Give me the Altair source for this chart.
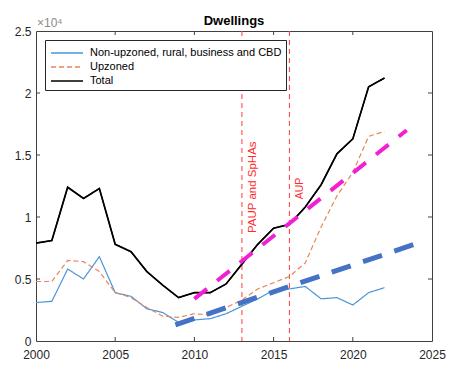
import altair as alt
import pandas as pd

years = list(range(2000, 2023))
non_upzoned = [0.31, 0.32, 0.58, 0.50, 0.68, 0.39, 0.36, 0.26, 0.23, 0.15, 0.17, 0.18,
               0.22, 0.28, 0.34, 0.41, 0.42, 0.44, 0.34, 0.35, 0.29, 0.39, 0.43]
upzoned = [0.48, 0.48, 0.65, 0.64, 0.56, 0.39, 0.35, 0.27, 0.20, 0.19, 0.22, 0.21,
           0.27, 0.33, 0.42, 0.47, 0.52, 0.63, 0.92, 1.17, 1.36, 1.65, 1.69]
total = [0.79, 0.81, 1.24, 1.15, 1.23, 0.78, 0.72, 0.56, 0.45, 0.35, 0.39, 0.39,
         0.46, 0.62, 0.78, 0.91, 0.94, 1.08, 1.26, 1.51, 1.63, 2.05, 2.12]
series_names = ["Non-upzoned, rural, business and CBD", "Upzoned", "Total"]

trend_up_x = [2010.0, 2023.4]
trend_up_y = [0.34, 1.70]
trend_non_x = [2008.8, 2023.9]
trend_non_y = [0.13, 0.78]

policy_years = [2013, 2016]
label_paup = ["PAUP and SpHAs"]
label_paup_x = [2013.67]
label_paup_y = [1.24]
label_aup = ["AUP"]
label_aup_x = [2016.68]
label_aup_y = [1.23]
exponent_label = ["×10⁴"]
title_text = ["Dwellings"]

x_ticks = [2000, 2005, 2010, 2015, 2020, 2025]
y_ticks = [0, 0.5, 1, 1.5, 2, 2.5]
x_inner_ticks = [2005, 2010, 2015, 2020]
y_inner_ticks = [0.5, 1, 1.5, 2]

W, H = 396, 310
FONT = "Liberation Sans"

rows = []
for name, vals in zip(series_names, [non_upzoned, upzoned, total]):
    for yr, v in zip(years, vals):
        rows.append({"year": yr, "value": v, "series": name})
df = pd.DataFrame(rows)
df_total = pd.DataFrame({"year": years, "value": total})

xs = alt.Scale(domain=[2000, 2025], nice=False, zero=False)
ys = alt.Scale(domain=[0, 2.5], nice=False, zero=False)

x_axis = alt.Axis(values=x_ticks, format="d", ticks=False, domain=False, grid=False,
                  labelFontSize=12, labelFont=FONT, labelColor="#262626", labelPadding=8,
                  title=None, labelFlush=False)
y_axis = alt.Axis(values=y_ticks, format="~g", ticks=False, domain=False, grid=False,
                  labelFontSize=12, labelFont=FONT, labelColor="#262626", labelPadding=5,
                  title=None)

legend = alt.Legend(
    orient="none", legendX=9, legendY=9,
    strokeColor="#262626", fillColor="#ffffff", padding=4, cornerRadius=0,
    labelFont=FONT, labelFontSize=11, labelColor="#000000", labelOffset=14,
    symbolType="M-2,0L2,0", symbolSize=256, symbolStrokeWidth=1.5, symbolOffset=9,
    rowPadding=0, labelLimit=400,
)

vlines = alt.Chart(pd.DataFrame({"year": policy_years})).mark_rule(
    color="#ff4d4d", strokeDash=[5, 4], strokeWidth=1.1
).encode(x=alt.X("year:Q", scale=xs, axis=x_axis))

lines = alt.Chart(df).mark_line(strokeWidth=1.2).encode(
    x=alt.X("year:Q", scale=xs, axis=x_axis),
    y=alt.Y("value:Q", scale=ys, axis=y_axis),
    color=alt.Color("series:N", title=None, legend=legend,
                    scale=alt.Scale(domain=series_names, range=["#4a95d8", "#e5875a", "#000000"])),
    strokeDash=alt.StrokeDash("series:N", title=None, legend=legend,
                              scale=alt.Scale(domain=series_names, range=[[1, 0], [5, 3], [1, 0]])),
    order=alt.Order("year:Q"),
)

total_line = alt.Chart(df_total).mark_line(color="#000000", strokeWidth=1.7).encode(
    x=alt.X("year:Q", scale=xs), y=alt.Y("value:Q", scale=ys))

trend_up = alt.Chart(pd.DataFrame({"year": trend_up_x, "value": trend_up_y})).mark_line(
    color="#f21fd3", strokeWidth=4, strokeDash=[16, 13]
).encode(x=alt.X("year:Q", scale=xs), y=alt.Y("value:Q", scale=ys))

trend_non = alt.Chart(pd.DataFrame({"year": trend_non_x, "value": trend_non_y})).mark_line(
    color="#4472c4", strokeWidth=5, strokeDash=[20, 13]
).encode(x=alt.X("year:Q", scale=xs), y=alt.Y("value:Q", scale=ys))

txt_paup = alt.Chart(pd.DataFrame({"year": label_paup_x, "value": label_paup_y, "t": label_paup})).mark_text(
    angle=270, color="#ff2a2a", fontSize=11.5, font=FONT, align="center", baseline="middle"
).encode(x=alt.X("year:Q", scale=xs), y=alt.Y("value:Q", scale=ys), text="t:N")

txt_aup = alt.Chart(pd.DataFrame({"year": label_aup_x, "value": label_aup_y, "t": label_aup})).mark_text(
    angle=270, color="#ff2a2a", fontSize=10.5, font=FONT, align="center", baseline="middle"
).encode(x=alt.X("year:Q", scale=xs), y=alt.Y("value:Q", scale=ys), text="t:N")

txt_exp = alt.Chart(pd.DataFrame({"t": exponent_label})).mark_text(
    color="#8a8a8a", fontSize=12, font=FONT, align="left", baseline="alphabetic"
).encode(x=alt.value(1), y=alt.value(-4), text="t:N")

txt_title = alt.Chart(pd.DataFrame({"t": title_text})).mark_text(
    color="#000000", fontSize=13, fontWeight="bold", font=FONT, align="center", baseline="alphabetic"
).encode(x=alt.value(W / 2), y=alt.value(-6), text="t:N")

TICK = "#404040"
xt = pd.DataFrame({"year": x_inner_ticks})
yt = pd.DataFrame({"value": y_inner_ticks})
tick_bottom = alt.Chart(xt).mark_rule(color=TICK, strokeWidth=1).encode(
    x=alt.X("year:Q", scale=xs), y=alt.value(H), y2=alt.value(H - 4))
tick_top = alt.Chart(xt).mark_rule(color=TICK, strokeWidth=1).encode(
    x=alt.X("year:Q", scale=xs), y=alt.value(0), y2=alt.value(4))
tick_left = alt.Chart(yt).mark_rule(color=TICK, strokeWidth=1).encode(
    y=alt.Y("value:Q", scale=ys), x=alt.value(0), x2=alt.value(4))
tick_right = alt.Chart(yt).mark_rule(color=TICK, strokeWidth=1).encode(
    y=alt.Y("value:Q", scale=ys), x=alt.value(W), x2=alt.value(W - 4))

chart = alt.layer(
    vlines, lines, total_line, trend_non, trend_up, txt_paup, txt_aup, txt_exp, txt_title,
    tick_bottom, tick_top, tick_left, tick_right
).properties(
    width=W, height=H,
    autosize=alt.AutoSizeParams(type="none"),
    padding={"left": 28, "top": 23, "right": 20, "bottom": 27},
).configure_view(
    stroke="#404040", strokeWidth=1
)

chart.save("out.html", embed_options={"renderer": "svg", "actions": False})
